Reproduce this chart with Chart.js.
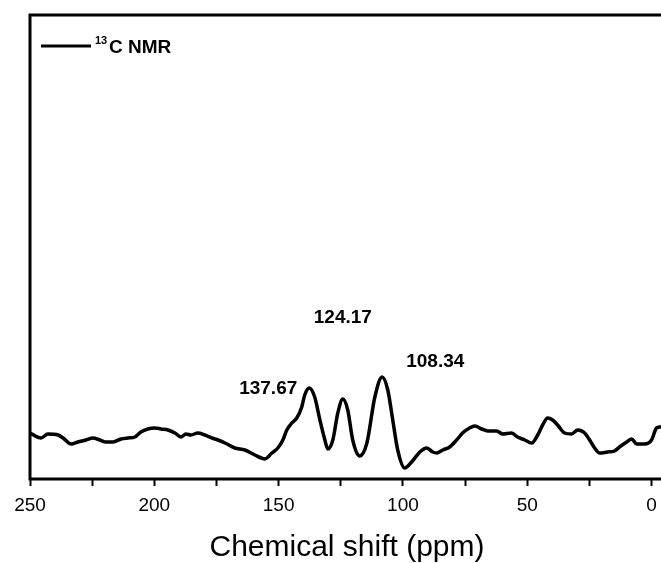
<!DOCTYPE html>
<html>
<head>
<meta charset="utf-8">
<script src="https://cdn.jsdelivr.net/npm/chart.js@4/dist/chart.umd.min.js"></script>
<style>
    html, body { margin: 0; padding: 0; overflow: hidden; background: #fff; }
    #wrap { width: 680px; height: 563px; }
</style>
</head>
<body>
<div id="wrap"><canvas id="nmrChart"></canvas></div>
<script>
// chemical shift (ppm) and intensity (a.u.)
const shifts = [250, 245.6, 242.8, 238.7, 236.7, 233.5, 230.7, 227.5, 224.7, 221.9, 219.5, 216.6, 213.4, 210.6, 207.8,
    205.4, 202.6, 199.8, 197.3, 194.5, 191.7, 189.3, 187.3, 185.3, 182.5, 179.7, 176.8, 174.4, 171.6, 167.6,
    163.6, 159.6, 155.5, 152.7, 150.3, 148.3, 146.7, 144.7, 142.7, 140.7, 139.5, 137.67, 135.5, 133.4, 131.4,
    130.2, 128.2, 126.2, 124.17, 122.2, 120.2, 117.4, 114.5, 111.3, 108.34, 106.1, 104.1, 102.1, 99.3, 96.5,
    93.2, 90.4, 88.0, 86.4, 84.0, 81.2, 78.4, 76.0, 73.2, 71.1, 68.3, 65.9, 62.3, 59.9, 56.3,
    53.9, 51.0, 48.2, 45.8, 43.8, 41.8, 39.8, 37.8, 35.0, 32.2, 29.7, 26.9, 24.9, 22.9, 20.9,
    17.7, 14.9, 12.9, 10.0, 8.0, 6.0, 2.8, 0.0, -2.0, -3.6, -5];
const intensity = [46, 41, 45, 44, 41, 35, 37, 39, 41, 39, 37, 37, 40, 41, 42,
    47, 50, 51, 50, 49, 46, 42, 45, 44, 46, 44, 41, 39, 36, 31,
    29, 24, 20, 26, 31, 39, 49, 56, 61, 72, 84, 91, 82, 59, 39,
    30, 39, 66, 80, 69, 39, 23, 36, 82, 102, 89, 59, 29, 11, 17,
    27, 31, 27, 26, 29, 32, 39, 46, 51, 53, 50, 48, 48, 45, 46,
    42, 39, 36, 44, 54, 61, 59, 54, 46, 45, 49, 46, 39, 31, 26,
    27, 28, 32, 37, 40, 35, 35, 39, 51, 52, 53];

const peakShifts = [137.67, 124.17, 108.34];
const tickValues = [250, 225, 200, 175, 150, 125, 100, 75, 50, 25, 0];
const labelFont = 'Liberation Sans, Arial, sans-serif';

// label placement around each peak top: [dx, dy, align]
const peakLabelPos = [[-12, 6, 'right'], [0, -76, 'center'], [24, -10, 'left']];

const framePlugin = {
    id: 'frame',
    afterDraw(chart) {
        const { ctx, chartArea: a, scales } = chart;
        ctx.save();
        ctx.strokeStyle = '#000';
        ctx.lineWidth = 3;
        ctx.strokeRect(a.left, a.top, a.right - a.left, a.bottom - a.top);

        // legend inside the frame
        ctx.lineWidth = 3;
        ctx.beginPath();
        ctx.moveTo(a.left + 11, a.top + 31);
        ctx.lineTo(a.left + 61, a.top + 31);
        ctx.stroke();
        ctx.fillStyle = '#000';
        ctx.textBaseline = 'alphabetic';
        ctx.textAlign = 'left';
        ctx.font = 'bold 11px ' + labelFont;
        ctx.fillText('13', a.left + 65, a.top + 29);
        ctx.font = 'bold 19px ' + labelFont;
        ctx.fillText('C NMR', a.left + 79, a.top + 38);

        // peak positions
        ctx.font = 'bold 19px ' + labelFont;
        peakShifts.forEach((p, i) => {
            const idx = shifts.indexOf(p);
            const x = scales.x.getPixelForValue(p);
            const y = scales.y.getPixelForValue(intensity[idx]);
            const [dx, dy, align] = peakLabelPos[i];
            ctx.textAlign = align;
            ctx.fillText(p.toFixed(2), x + dx, y + dy);
        });
        ctx.restore();
    }
};

new Chart(document.getElementById('nmrChart'), {
    type: 'line',
    data: {
        datasets: [{
            label: '13C NMR',
            data: shifts.map((s, i) => ({ x: s, y: intensity[i] })),
            borderColor: '#000',
            borderWidth: 3.5,
            pointRadius: 0,
            fill: false,
            cubicInterpolationMode: 'monotone'
        }]
    },
    options: {
        responsive: true,
        maintainAspectRatio: false,
        animation: false,
        layout: { padding: { left: 30, right: 16, top: 15, bottom: 0 } },
        plugins: { legend: { display: false }, tooltip: { enabled: false } },
        scales: {
            x: {
                type: 'linear',
                reverse: true,
                min: -5,
                max: 250,
                afterBuildTicks: scale => { scale.ticks = tickValues.map(v => ({ value: v })); },
                afterFit: scale => { scale.height = 84; },
                border: { display: false },
                grid: { drawOnChartArea: false, drawTicks: true, tickLength: 7, tickWidth: 2, color: '#000' },
                ticks: {
                    color: '#000',
                    padding: 8,
                    maxRotation: 0,
                    autoSkip: false,
                    font: { family: labelFont, size: 19 },
                    callback: v => (v % 50 === 0 ? String(v) : '')
                },
                title: {
                    display: true,
                    text: 'Chemical shift (ppm)',
                    color: '#000',
                    padding: { top: 0, bottom: 0 },
                    font: { family: labelFont, size: 30, lineHeight: 1 }
                }
            },
            y: { display: false, min: 0, max: 464 }
        }
    },
    plugins: [framePlugin]
});
</script>
</body>
</html>
